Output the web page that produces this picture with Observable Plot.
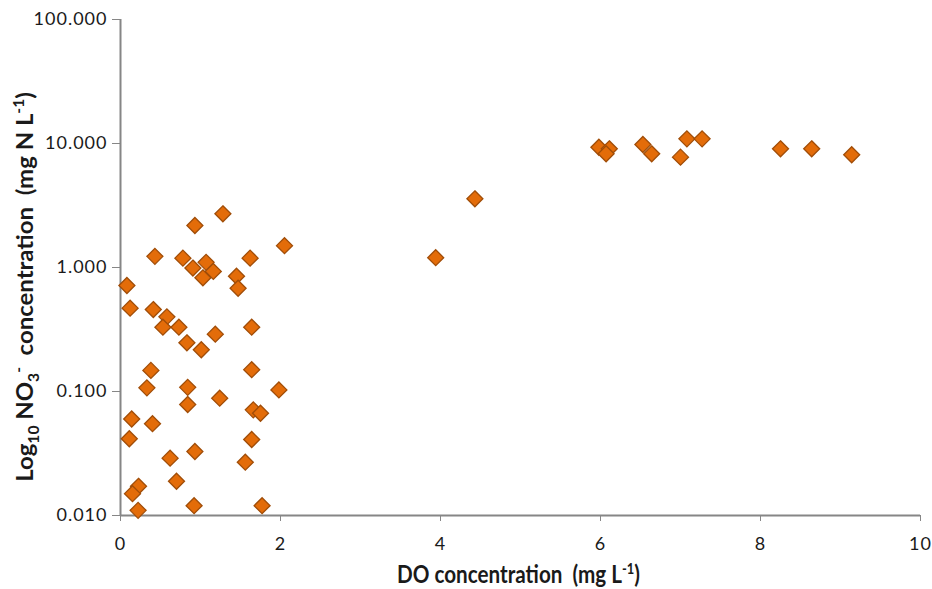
<!DOCTYPE html>
<html>
<head>
<meta charset="utf-8">
<script src="https://cdn.jsdelivr.net/npm/d3@7"></script>
<script src="https://cdn.jsdelivr.net/npm/@observablehq/plot@0.6"></script>
<style>
  html, body { margin: 0; padding: 0; background: #fff; }
  #chart svg { display: block; }
</style>
</head>
<body>
<div id="chart"></div>
<script>
// Dissolved oxygen (mg/L) and nitrate (mg N/L) per sample
const doConc = [
  1.28, 0.93, 2.05, 0.43, 0.78, 1.07, 1.62, 0.905, 1.16, 1.03, 1.45, 1.47,
  0.08, 0.12, 0.41, 0.58, 0.53, 0.73, 1.64, 0.83, 1.185, 1.01, 0.38, 1.64,
  0.33, 0.84, 1.98, 1.24, 0.84, 1.66, 1.75, 0.14, 0.40, 0.11, 1.64, 0.93,
  0.62, 1.56, 0.70, 0.225, 0.15, 0.92, 1.77, 0.22,
  3.94, 4.43, 5.98, 6.11, 6.07, 6.53, 6.64, 7.08, 7.27, 7.00, 8.25, 8.64, 9.14
];
const no3Conc = [
  2.71, 2.18, 1.50, 1.23, 1.19, 1.10, 1.19, 0.99, 0.93, 0.826, 0.85, 0.68,
  0.716, 0.47, 0.458, 0.40, 0.33, 0.33, 0.33, 0.247, 0.29, 0.217, 0.148, 0.150,
  0.107, 0.108, 0.103, 0.0883, 0.0785, 0.0711, 0.0668, 0.060, 0.055, 0.0416, 0.041, 0.0328,
  0.029, 0.0269, 0.0189, 0.0172, 0.015, 0.012, 0.012, 0.011,
  1.20, 3.58, 9.33, 9.06, 8.26, 9.82, 8.26, 10.9, 10.9, 7.76, 9.06, 9.06, 8.11
];
const xTicks = [0, 2, 4, 6, 8, 10];
const yTicks = [0.01, 0.1, 1, 10, 100];

const samples = doConc.map((d, i) => ({ dox: d, no3: no3Conc[i] }));

const axisColor = "#868686";
const textColor = "#1a1a1a";

const plot = Plot.plot({
  width: 932,
  height: 589,
  marginLeft: 120,
  marginRight: 12,
  marginTop: 19,
  marginBottom: 74,
  style: { fontFamily: "Lato, 'Liberation Sans', sans-serif", fontSize: "18px", color: textColor, background: "#fff" },
  x: { domain: [0, 10] },
  y: { type: "log", domain: [0.01, 100] },
  marks: [
    Plot.axisX(xTicks, { tickSize: 6, tickPadding: 16, stroke: axisColor, fontSize: 18, label: null }),
    Plot.axisY(yTicks, { tickSize: 8, tickPadding: 5, stroke: axisColor, fontSize: 18, label: null,
      tickFormat: d => d.toFixed(3) }),
    Plot.ruleX([0], { stroke: axisColor, strokeWidth: 2 }),
    Plot.ruleY([0.01], { stroke: axisColor, strokeWidth: 2 }),
    Plot.dot(samples, {
      x: "dox", y: "no3", symbol: "diamond2", r: 7.2,
      fill: "#E36C09", stroke: "#A04D08", strokeWidth: 1.3, fillOpacity: 1
    })
  ]
});

document.getElementById("chart").appendChild(plot);

const svg = d3.select(plot);
svg.selectAll("g[aria-label='y-axis tick label'] text, g[aria-label='x-axis tick label'] text")
  .style("letter-spacing", "1px");

// Squeeze a bold title horizontally so it spans the given length
function fitTitle(text, length, place) {
  const w = text.node().getBBox().width;
  text.attr("transform", `${place} scale(${length / w},1)`);
}

// x axis title
const xt = svg.append("text")
  .attr("text-anchor", "middle")
  .attr("font-weight", "bold").attr("font-size", 24)
  .attr("fill", textColor)
  .style("white-space", "pre");
xt.append("tspan").text("DO concentration  (mg L");
xt.append("tspan").attr("dy", -9).attr("font-size", 15).text("-1");
xt.append("tspan").attr("dy", 9).text(")");
fitTitle(xt, 243, "translate(518.5,583)");

// y axis title
const yt = svg.append("text")
  .attr("text-anchor", "middle")
  .attr("font-weight", "bold").attr("font-size", 23)
  .attr("fill", textColor)
  .style("white-space", "pre");
yt.append("tspan").text("Log");
yt.append("tspan").attr("dy", 6).attr("font-size", 15).text("10");
yt.append("tspan").attr("dy", -6).text(" NO");
yt.append("tspan").attr("dy", 6).attr("font-size", 15).text("3");
yt.append("tspan").attr("dy", -15).attr("font-size", 15).text("-");
yt.append("tspan").attr("dy", 9).text("  concentration  (mg N L");
yt.append("tspan").attr("dy", -9).attr("font-size", 15).text("-1");
yt.append("tspan").attr("dy", 9).text(")");
fitTitle(yt, 390, "translate(32.5,287) rotate(-90)");
</script>
</body>
</html>
